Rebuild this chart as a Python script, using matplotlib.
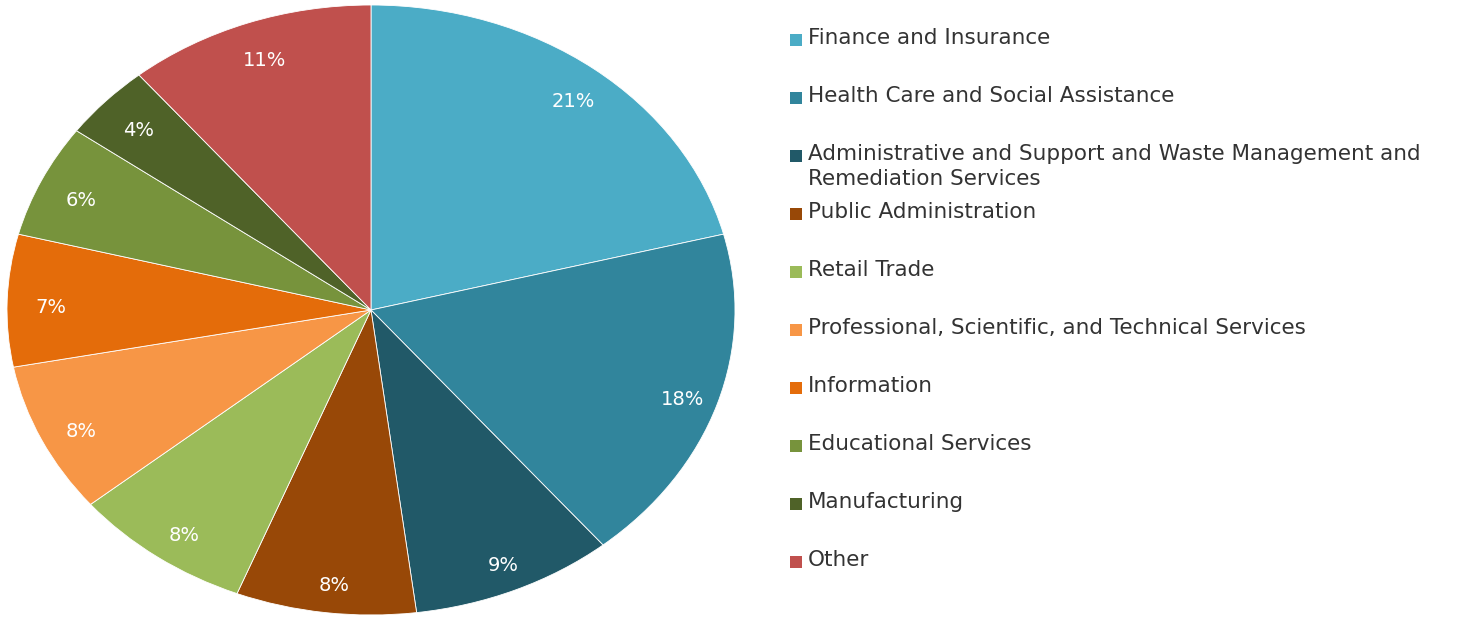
import matplotlib.pyplot as plt
from matplotlib.patches import Rectangle

# Industry shares (percent), clockwise from 12 o'clock
industries = [
    "Finance and Insurance",
    "Health Care and Social Assistance",
    "Administrative and Support and Waste Management and\nRemediation Services",
    "Public Administration",
    "Retail Trade",
    "Professional, Scientific, and Technical Services",
    "Information",
    "Educational Services",
    "Manufacturing",
    "Other",
]
shares = [21, 18, 9, 8, 8, 8, 7, 6, 4, 11]
colors = [
    "#4BACC6", "#31859C", "#215968", "#984807", "#9BBB59",
    "#F79646", "#E46C0A", "#77933C", "#4F6228", "#C0504D",
]

W, H = 1483, 618
fig = plt.figure(figsize=(W / 100, H / 100), dpi=100)

# pie is stretched into an ellipse, so aspect stays 'auto'
ax = fig.add_axes([7 / W, 3 / H, 728 / W, 610 / H])
wedges, texts, autotexts = ax.pie(
    shares,
    colors=colors,
    startangle=90,
    counterclock=False,
    autopct="%1.0f%%",
    pctdistance=0.89,
    wedgeprops=dict(edgecolor="white", linewidth=0.6),
    textprops=dict(color="white", fontsize=14),
)
ax.set_aspect("auto")
ax.set_xlim(-1, 1)
ax.set_ylim(-1, 1)
ax.axis("off")
# nudge the percentage labels down a touch
for t in autotexts:
    x, y = t.get_position()
    t.set_position((x + 0.01, y - 0.02))

# legend drawn by hand to keep the even spacing of the original
y0, step = 40, 58
for i, (name, c) in enumerate(zip(industries, colors)):
    yc = y0 + step * i
    fig.patches.append(Rectangle((790 / W, 1 - (yc + 6) / H), 12 / W, 12 / H,
                                 transform=fig.transFigure, facecolor=c,
                                 edgecolor="none"))
    fig.text(808 / W, 1 - (yc - 12) / H, name, ha="left", va="top",
             fontsize=15.5, color="#333333", linespacing=1.3)

fig.savefig("out.png", dpi=100)
